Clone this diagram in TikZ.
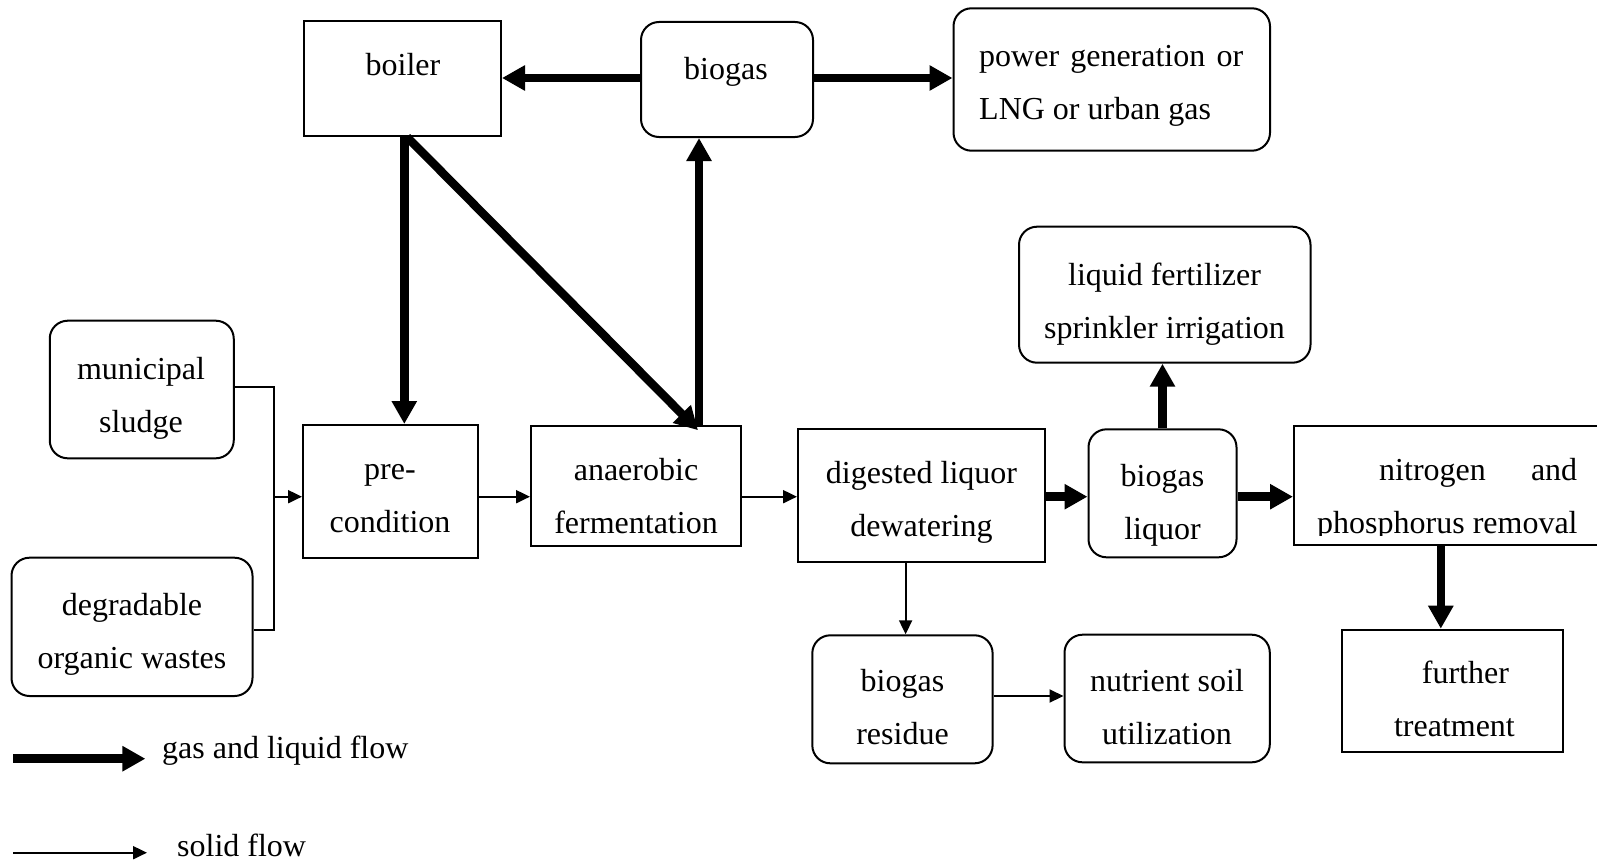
\documentclass[tikz,border=0pt]{standalone}
\usepackage{fontspec}
\setmainfont{Liberation Serif}
\usetikzlibrary{arrows.meta,calc}
\begin{document}
\begin{tikzpicture}[x=1pt,y=-1pt,
  sqbox/.style={draw, line width=2pt, inner sep=0pt},
  rbox/.style={sqbox, rounded corners=18pt},
  txt/.style={font=\fontsize{32}{53}\selectfont, align=center, inner sep=0pt, anchor=base},
  txtl/.style={txt, align=left, anchor=base west},
  gasflow/.style={line width=8.5pt, -{Triangle[length=23pt,width=24pt]}},
  solidflow/.style={line width=2pt, -{Triangle[length=14pt,width=13pt]}},
]
\useasboundingbox (0,0) rectangle (1597,867);

% process boxes
\node[sqbox, minimum width=197pt, minimum height=114.5pt] (boiler) at (402.5,78.75) {};
\node[rbox, minimum width=172pt, minimum height=115pt] (biogas) at (727,79.5) {};
\node[rbox, minimum width=316.5pt, minimum height=142.4pt] (power) at (1111.75,79.5) {};
\node[rbox, minimum width=291.5pt, minimum height=136pt] (liquid) at (1164.75,294.7) {};
\node[rbox, minimum width=184pt, minimum height=137.6pt] (municipal) at (141.75,389.5) {};
\node[sqbox, minimum width=174.5pt, minimum height=132.7pt] (precond) at (390.25,491.35) {};
\node[sqbox, minimum width=210pt, minimum height=120.3pt] (anaerobic) at (636,485.85) {};
\node[rbox, minimum width=241pt, minimum height=138.3pt] (degradable) at (132,626.85) {};
\node[sqbox, minimum width=246.7pt, minimum height=132.4pt] (digested) at (921.35,495.5) {};
\node[rbox, minimum width=148pt, minimum height=128pt] (bliquor) at (1162.5,493.3) {};
\node[sqbox, minimum width=316pt, minimum height=118.8pt] (nitrogen) at (1452,485.1) {};
\node[rbox, minimum width=180.3pt, minimum height=128pt] (residue) at (902.45,699.3) {};
\node[rbox, minimum width=205.3pt, minimum height=127.6pt] (nutrient) at (1167.15,698.5) {};
\node[sqbox, minimum width=221.5pt, minimum height=122pt] (further) at (1452.45,690.7) {};

% box texts (multi-line texts are placed by the baseline of their last line)
\node[txt] (boiler-t) at (403,75) {boiler};
\node[txt] (biogas-t) at (726,79) {biogas};
\node[txtl] (power-t) at (979,119.7) {\makebox[264pt][s]{power generation or}\\LNG or urban gas};
\node[txt] (liquid-t) at (1164.5,338) {liquid fertilizer\\sprinkler irrigation};
\node[txt] (municipal-t) at (141,432) {municipal\\sludge};
\node[txt] (precond-t) at (390,532) {pre-\\condition};
\node[txt] (anaerobic-t) at (636,533) {anaerobic\\fermentation};
\node[txt] (digested-t) at (921.5,536) {digested liquor\\dewatering};
\node[txt] (bliquor-t) at (1162.5,539) {biogas\\liquor};
\begin{scope}
  % the text frame cuts off the descenders of the last line
  \clip (1294,427) rectangle (1597,535.5);
  \node[txtl] (nitrogen-t) at (1317,533) {\makebox[260pt][l]{\hspace*{62pt}nitrogen\hfill and}\\phosphorus removal};
\end{scope}
\node[txt] (residue-t) at (902.5,744) {biogas\\residue};
\node[txt] (nutrient-t) at (1167,744) {nutrient soil\\utilization};
\node[txt] (further-t) at (1454.4,736.4) {\hspace*{22pt}further\\treatment};
\node[txt] (degradable-t) at (132,668) {degradable\\organic wastes};

% gas and liquid flows
\draw[gasflow] (biogas.west |- 0,78) -- (boiler.east |- 0,78);
\draw[gasflow] (biogas.east |- 0,78) -- (power.west |- 0,78);
\draw[gasflow] (anaerobic.north -| 699,0) -- (biogas.south -| 699,0);
\draw[gasflow] (boiler.south -| 404.3,0) -- (precond.north -| 404.3,0);
\draw[gasflow] (boiler.south -| 407,0) -- ($(anaerobic.north -| 698,0)+(0,5.5)$);
\draw[gasflow] (digested.east |- 0,496.7) -- (bliquor.west |- 0,496.7);
\draw[gasflow] (bliquor.east |- 0,496.7) -- (nitrogen.west |- 0,496.7);
\draw[gasflow] (bliquor.north -| 1162.5,0) -- (liquid.south -| 1162.5,0);
\draw[gasflow] (nitrogen.south -| 1440.8,0) -- (further.north -| 1440.8,0);

% solid flows
\coordinate (join) at (273.5,496.7);
\draw[line width=2pt] (municipal.east |- 0,386.7) -| (join |- 0,630) -- (degradable.east |- 0,630);
\draw[solidflow] (join) -- (precond.west |- join);
\draw[solidflow] (precond.east |- 0,496.7) -- (anaerobic.west |- 0,496.7);
\draw[solidflow] (anaerobic.east |- 0,496.7) -- (digested.west |- 0,496.7);
\draw[solidflow] (digested.south -| 905.6,0) -- (residue.north -| 905.6,0);
\draw[solidflow] (residue.east |- 0,696) -- (nutrient.west |- 0,696);

% legend
\coordinate (lg-gas-a) at (13,758.7);
\coordinate (lg-gas-b) at (145.4,758.7);
\coordinate (lg-sol-a) at (13,852.7);
\coordinate (lg-sol-b) at (147,852.7);
\draw[gasflow] (lg-gas-a) -- (lg-gas-b);
\draw[solidflow] (lg-sol-a) -- (lg-sol-b);
\node[txtl] (lg-gas-t) at (162,758) {gas and liquid flow};
\node[txtl] (lg-sol-t) at (177,856) {solid flow};
\end{tikzpicture}
\end{document}
